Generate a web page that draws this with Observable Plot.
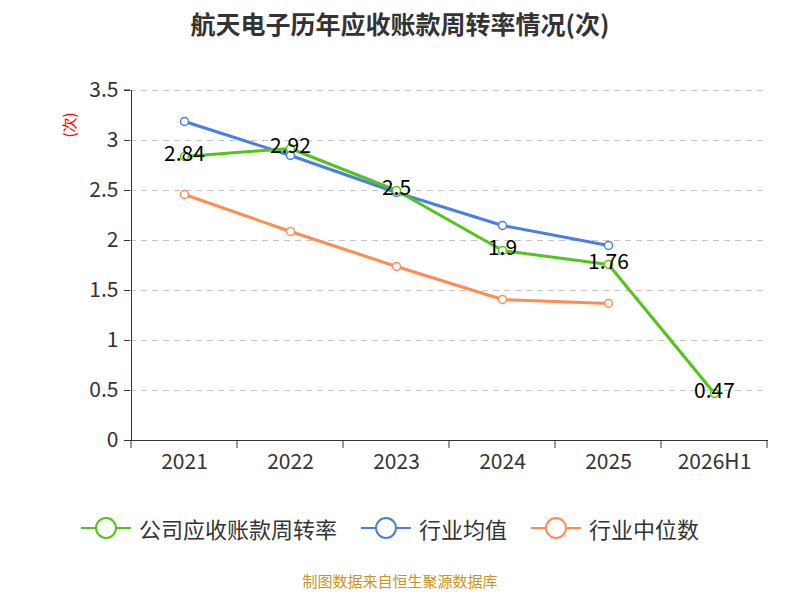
<!DOCTYPE html>
<html><head><meta charset="utf-8">
<script src="https://cdn.jsdelivr.net/npm/d3@7"></script>
<script src="https://cdn.jsdelivr.net/npm/@observablehq/plot@0.6"></script>
<style>
body{margin:0;font-family:"Noto Sans CJK SC","Noto Sans",sans-serif;background:#fff;width:800px}
#title{height:50px;line-height:46px;text-align:center;font-size:25px;font-weight:bold;color:#333}
#legend{display:flex;justify-content:center;gap:24px;font-size:22px;color:#333;margin-top:22px;padding-right:20px}
.li{display:flex;align-items:center;gap:8px}
#src{text-align:center;color:#c8961e;font-size:15px;margin-top:26px}
</style></head><body>
<div id="title">航天电子历年应收账款周转率情况(次)</div>
<div id="chart"></div>
<div id="legend"></div>
<div id="src">制图数据来自恒生聚源数据库</div>
<script>
const years=["2021","2022","2023","2024","2025","2026H1"];
const company=[2.84,2.92,2.5,1.9,1.76,0.47];
const mean=[3.19,2.85,2.48,2.15,1.95];
const median=[2.46,2.09,1.74,1.41,1.37];
const yTicks=[0,0.5,1,1.5,2,2.5,3,3.5];
const series=[["公司应收账款周转率",company,"#52c41a"],["行业均值",mean,"#4a7fe0"],["行业中位数",median,"#ff8c55"]];
const rows=[];
series.forEach(([n,v,c])=>v.forEach((y,i)=>rows.push({s:n,x:years[i],y})));
const col={domain:series.map(d=>d[0]),range:series.map(d=>d[2])};
const marks=[
 Plot.gridY(yTicks,{stroke:"#c4c4c4",strokeDasharray:"6,5",strokeOpacity:1}),
 Plot.ruleY([0],{stroke:"#333"}),
 Plot.ruleX([years[0]],{stroke:"#333",dx:-53}),
];
[...series].reverse().forEach(([n,v,c])=>{
 const d=rows.filter(r=>r.s===n);
 marks.push(Plot.line(d,{x:"x",y:"y",stroke:c,strokeWidth:3}));
 marks.push(Plot.dot(d,{x:"x",y:"y",r:4,stroke:c,fill:"#fff",strokeWidth:1.5}));
});
marks.push(Plot.text(rows.filter(r=>r.s===series[0][0]),{x:"x",y:"y",text:d=>String(d.y),fontSize:21,fill:"#000",dy:-2}));
const plot=Plot.plot({width:800,height:440,marginLeft:130,marginRight:32,marginTop:40,marginBottom:50,
 x:{type:"band",domain:years,padding:0,label:null,tickSize:0,tickPadding:14},
 y:{domain:[0,3.5],ticks:yTicks,label:null,tickSize:6,tickPadding:6,tickFormat:d=>String(d)},
 color:col,
 style:{fontSize:"21px",color:"#333",fontFamily:"Noto Sans CJK SC, Noto Sans, sans-serif"},
 marks});
document.getElementById("chart").append(plot);
const sx=plot.scale("x"),svg=d3.select(plot);
const bw=sx.bandwidth;
const xs=years.map(y=>sx.apply(y)).concat([sx.apply(years[years.length-1])+bw]);
xs.forEach(x=>svg.append("line").attr("x1",x).attr("x2",x).attr("y1",390).attr("y2",398).attr("stroke","#333"));
svg.append("line").attr("x1",124).attr("x2",130).attr("y1",40).attr("y2",40).attr("stroke","#333");
svg.append("text").attr("transform","translate(70,75) rotate(-90)").attr("text-anchor","middle").attr("dy","0.35em").attr("fill","red").attr("font-size",15).text("(次)");
const lg=document.getElementById("legend");
series.forEach(([n,v,c])=>{lg.insertAdjacentHTML("beforeend",`<div class="li"><svg width="50" height="24"><line x1="0" x2="50" y1="12" y2="12" stroke="${c}" stroke-width="2"/><circle cx="25" cy="12" r="10" fill="#fff" stroke="${c}" stroke-width="2"/></svg><span>${n}</span></div>`)});
</script></body></html>
